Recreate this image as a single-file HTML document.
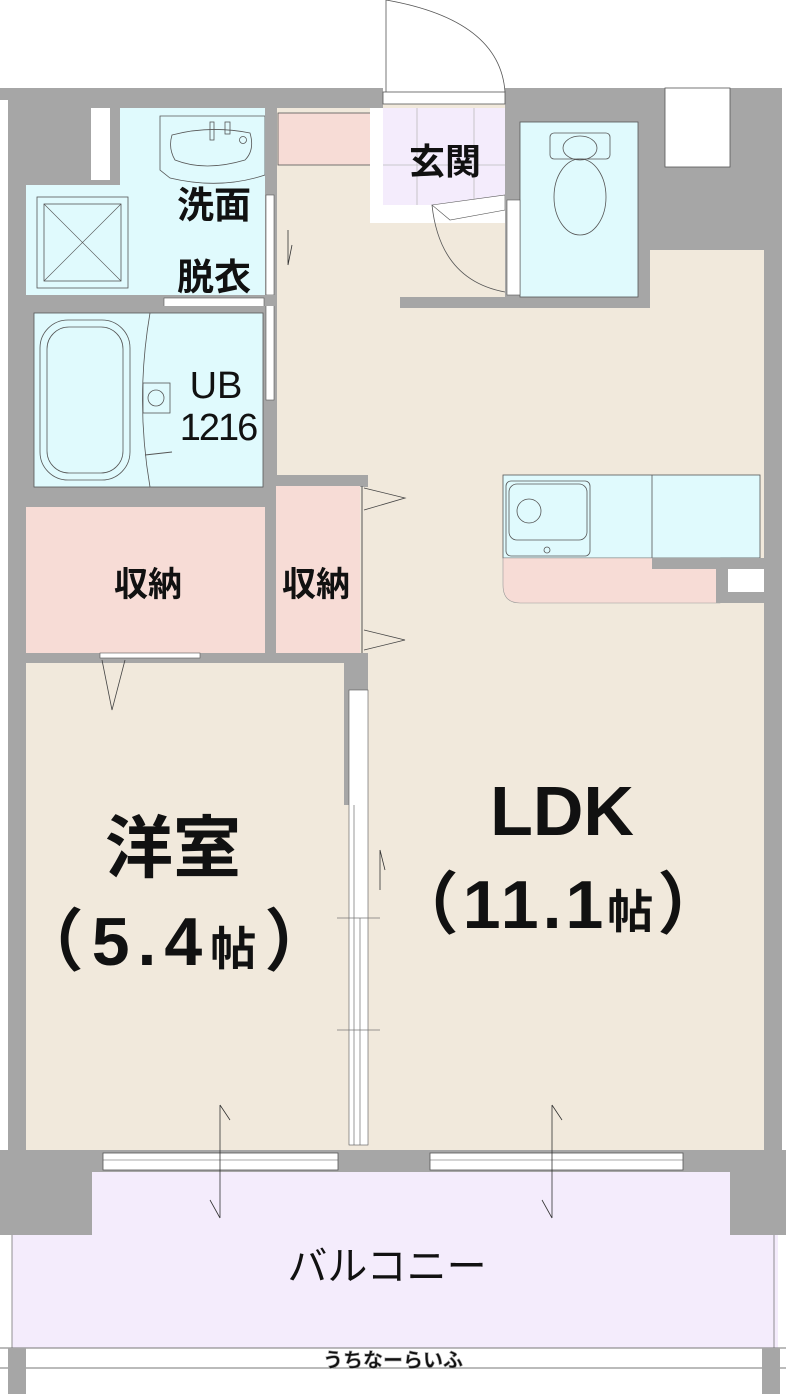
<!DOCTYPE html>
<html><head><meta charset="utf-8"><style>
html,body{margin:0;padding:0;background:#fff;}
svg{display:block;}
text{font-family:"Liberation Sans","Noto Sans CJK JP",sans-serif;fill:#111;}
</style></head><body>
<svg width="786" height="1394" viewBox="0 0 786 1394" xmlns="http://www.w3.org/2000/svg">
<rect width="786" height="1394" fill="#fff"/>
<rect x="270" y="100" width="494" height="1052" fill="#f1e9dc"/>
<rect x="26" y="660" width="320" height="492" fill="#f1e9dc"/>
<rect x="0" y="88" width="383" height="20" fill="#a6a6a6"/>
<rect x="505" y="88" width="281" height="20" fill="#a6a6a6"/>
<rect x="0" y="88" width="120" height="97" fill="#a6a6a6"/>
<rect x="91" y="108" width="19" height="72" fill="#fff"/>
<rect x="0" y="100" width="8" height="1060" fill="#fff"/>
<rect x="8" y="88" width="18" height="1070" fill="#a6a6a6"/>
<rect x="647" y="88" width="139" height="162" fill="#a6a6a6"/>
<rect x="665" y="88" width="65" height="79" fill="#fff" stroke="#555" stroke-width="0.8"/>
<rect x="764" y="88" width="18" height="1070" fill="#a6a6a6"/>
<rect x="782" y="88" width="4" height="1060" fill="#fff"/>
<rect x="120" y="108" width="145" height="80" fill="#e0fafd"/>
<rect x="26" y="185" width="239" height="110" fill="#e0fafd"/>
<rect x="37" y="197" width="91" height="91" fill="none" stroke="#555" stroke-width="0.8"/>
<rect x="44" y="204" width="77" height="77" fill="none" stroke="#555" stroke-width="0.8"/>
<line x1="44" y1="204" x2="121" y2="281" stroke="#555" stroke-width="0.6"/>
<line x1="121" y1="204" x2="44" y2="281" stroke="#555" stroke-width="0.6"/>
<path d="M160 116 H265 V175 Q220 190 170 178 L160 170 Z" fill="none" stroke="#555" stroke-width="0.8"/>
<path d="M172 135 Q210 125 250 133 Q255 150 245 160 Q205 172 175 160 Q168 148 172 135 Z" fill="none" stroke="#555" stroke-width="0.8"/>
<circle cx="243" cy="140" r="3.5" fill="none" stroke="#555" stroke-width="0.8"/>
<rect x="210" y="122" width="4" height="18" fill="none" stroke="#555" stroke-width="0.8"/>
<rect x="225" y="122" width="5" height="12" fill="none" stroke="#555" stroke-width="0.8"/>
<rect x="265" y="88" width="12" height="400" fill="#a6a6a6"/>
<rect x="266" y="195" width="8" height="100" fill="#fff" stroke="#555" stroke-width="0.6"/>
<rect x="266" y="300" width="8" height="100" fill="#fff" stroke="#555" stroke-width="0.6"/>
<rect x="26" y="295" width="249" height="11" fill="#a6a6a6"/>
<rect x="164" y="298" width="100" height="12" fill="#fff" stroke="#555" stroke-width="0.6"/>
<rect x="26" y="306" width="239" height="184" fill="#a6a6a6"/>
<rect x="34" y="313" width="229" height="174" fill="#e0fafd" stroke="#555" stroke-width="0.8"/>
<rect x="40" y="320" width="90" height="160" rx="28" fill="none" stroke="#555" stroke-width="0.8"/>
<rect x="47" y="327" width="76" height="146" rx="22" fill="none" stroke="#555" stroke-width="0.8"/>
<path d="M150 313 Q135 400 150 487" fill="none" stroke="#555" stroke-width="0.8"/>
<rect x="143" y="383" width="27" height="30" fill="none" stroke="#555" stroke-width="0.8"/>
<circle cx="156" cy="398" r="8" fill="none" stroke="#555" stroke-width="0.8"/>
<line x1="145" y1="455" x2="172" y2="452" stroke="#555" stroke-width="1"/>
<rect x="26" y="488" width="250" height="19" fill="#a6a6a6"/>
<rect x="275" y="475" width="93" height="12" fill="#a6a6a6"/>
<rect x="26" y="507" width="239" height="146" fill="#f7dcd6"/>
<rect x="265" y="486" width="11" height="177" fill="#a6a6a6"/>
<rect x="276" y="486" width="84" height="167" fill="#f7dcd6"/>
<line x1="362" y1="486" x2="362" y2="653" stroke="#555" stroke-width="1"/>
<path d="M364 488 L405 498 L364 510" fill="none" stroke="#444" stroke-width="0.8"/>
<path d="M364 630 L405 640 L364 650" fill="none" stroke="#444" stroke-width="0.8"/>
<rect x="26" y="653" width="342" height="10" fill="#a6a6a6"/>
<rect x="100" y="653" width="100" height="5" fill="#fff" stroke="#555" stroke-width="0.6"/>
<path d="M102 660 L112 710 L125 660" fill="none" stroke="#444" stroke-width="0.8"/>
<rect x="344" y="653" width="24" height="37" fill="#a6a6a6"/>
<rect x="344" y="690" width="5" height="115" fill="#a6a6a6"/>
<rect x="349" y="690" width="19" height="455" fill="#fff" stroke="#555" stroke-width="0.6"/>
<line x1="354" y1="805" x2="354" y2="1145" stroke="#555" stroke-width="0.6"/>
<line x1="360" y1="918" x2="360" y2="1145" stroke="#555" stroke-width="0.6"/>
<line x1="337" y1="918" x2="380" y2="918" stroke="#777" stroke-width="0.8"/>
<line x1="337" y1="1030" x2="380" y2="1030" stroke="#777" stroke-width="0.8"/>
<rect x="278" y="113" width="100" height="52" fill="#f7dcd6" stroke="#555" stroke-width="0.8"/>
<rect x="370" y="108" width="140" height="115" fill="#fff"/>
<rect x="383" y="108" width="122" height="97" fill="#f4ecfc"/>
<line x1="383" y1="165" x2="505" y2="165" stroke="#bbb" stroke-width="0.8"/>
<line x1="417" y1="108" x2="417" y2="205" stroke="#bbb" stroke-width="0.8"/>
<line x1="474" y1="108" x2="474" y2="205" stroke="#bbb" stroke-width="0.8"/>
<rect x="383" y="92" width="122" height="12" fill="#fff" stroke="#555" stroke-width="0.8"/>
<line x1="386" y1="0" x2="386" y2="92" stroke="#555" stroke-width="0.8"/>
<path d="M386 0 Q500 20 505 92" fill="none" stroke="#555" stroke-width="0.8"/>
<path d="M432 205 L505 195 L505 210 L450 220 Z" fill="#fff" stroke="#555" stroke-width="0.6"/>
<path d="M432 205 Q440 280 505 292" fill="none" stroke="#555" stroke-width="0.8"/>
<rect x="505" y="108" width="145" height="200" fill="#a6a6a6"/>
<rect x="400" y="297" width="250" height="11" fill="#a6a6a6"/>
<rect x="520" y="122" width="118" height="175" fill="#e0fafd" stroke="#555" stroke-width="0.8"/>
<rect x="507" y="200" width="13" height="95" fill="#fff" stroke="#555" stroke-width="0.6"/>
<rect x="550" y="133" width="60" height="26" rx="4" fill="none" stroke="#555" stroke-width="0.8"/>
<ellipse cx="580" cy="148" rx="17" ry="12" fill="none" stroke="#555" stroke-width="0.8"/>
<ellipse cx="580" cy="197" rx="26" ry="38" fill="none" stroke="#555" stroke-width="0.8"/>
<rect x="503" y="475" width="257" height="83" fill="#e0fafd" stroke="#555" stroke-width="0.8"/>
<line x1="652" y1="475" x2="652" y2="558" stroke="#555" stroke-width="0.8"/>
<rect x="506" y="481" width="84" height="75" rx="5" fill="none" stroke="#555" stroke-width="0.8"/>
<rect x="509" y="484" width="78" height="56" rx="8" fill="none" stroke="#555" stroke-width="0.8"/>
<circle cx="529" cy="511" r="12" fill="none" stroke="#555" stroke-width="0.8"/>
<circle cx="547" cy="550" r="3" fill="none" stroke="#555" stroke-width="0.8"/>
<path d="M503 558 H720 V603 H520 Q503 603 503 585 Z" fill="#f7dcd6" stroke="#999" stroke-width="0.6"/>
<rect x="652" y="558" width="112" height="11" fill="#a6a6a6"/>
<rect x="716" y="558" width="12" height="45" fill="#a6a6a6"/>
<rect x="728" y="592" width="36" height="11" fill="#a6a6a6"/>
<rect x="728" y="569" width="36" height="23" fill="#fff"/>
<rect x="0" y="1150" width="786" height="22" fill="#a6a6a6"/>
<rect x="0" y="1172" width="92" height="63" fill="#a6a6a6"/>
<rect x="730" y="1172" width="56" height="63" fill="#a6a6a6"/>
<rect x="103" y="1153" width="235" height="17" fill="#fff" stroke="#555" stroke-width="0.8"/>
<line x1="103" y1="1160" x2="338" y2="1160" stroke="#555" stroke-width="0.6"/>
<rect x="430" y="1153" width="253" height="17" fill="#fff" stroke="#555" stroke-width="0.8"/>
<line x1="430" y1="1160" x2="683" y2="1160" stroke="#555" stroke-width="0.6"/>
<rect x="92" y="1172" width="638" height="63" fill="#f4ecfc"/>
<rect x="12" y="1235" width="766" height="113" fill="#f4ecfc"/>
<line x1="12" y1="1235" x2="12" y2="1348" stroke="#777" stroke-width="0.8"/>
<line x1="774" y1="1235" x2="774" y2="1348" stroke="#777" stroke-width="0.8"/>
<line x1="0" y1="1348" x2="786" y2="1348" stroke="#777" stroke-width="1"/>
<line x1="0" y1="1368" x2="786" y2="1368" stroke="#777" stroke-width="1"/>
<rect x="8" y="1348" width="18" height="46" fill="#a6a6a6"/>
<rect x="762" y="1348" width="18" height="46" fill="#a6a6a6"/>
<g stroke="#333" stroke-width="0.8" fill="none">
<path d="M220 1105 V1218 M220 1105 L230 1120 M220 1218 L210 1200"/>
<path d="M552 1105 V1218 M552 1105 L562 1120 M552 1218 L542 1200"/>
<path d="M380 850 V890 M380 850 L385 870"/>
<path d="M288 230 V265 M288 265 L292 245"/>
</g>
<text x="214" y="218" font-size="37" text-anchor="middle" font-weight="bold">洗面</text>
<text x="214" y="290" font-size="37" text-anchor="middle" font-weight="bold">脱衣</text>
<text x="216" y="398" font-size="38" text-anchor="middle">UB</text>
<text x="218" y="440" font-size="38" text-anchor="middle" letter-spacing="-2">1216</text>
<text x="445" y="174" font-size="36" text-anchor="middle" font-weight="bold">玄関</text>
<text x="148" y="596" font-size="34" text-anchor="middle" font-weight="bold">収納</text>
<text x="316" y="596" font-size="34" text-anchor="middle" font-weight="bold">収納</text>
<text x="173" y="872" font-size="68" text-anchor="middle" font-weight="bold">洋室</text>
<text x="178" y="965" font-size="68" font-weight="bold" text-anchor="middle" letter-spacing="8">（5.4<tspan font-size="46">帖</tspan>）</text>
<text x="562" y="835" font-size="70" text-anchor="middle" font-weight="bold">LDK</text>
<text x="560" y="928" font-size="68" font-weight="bold" text-anchor="middle" letter-spacing="4">（11.1<tspan font-size="46">帖</tspan>）</text>
<text x="387" y="1280" font-size="40" text-anchor="middle">バルコニー</text>
<text x="393" y="1367" font-size="20" text-anchor="middle" fill="#ddd" stroke="#999" stroke-width="0.6" font-weight="bold">うちなーらいふ</text>
</svg>
</body></html>
